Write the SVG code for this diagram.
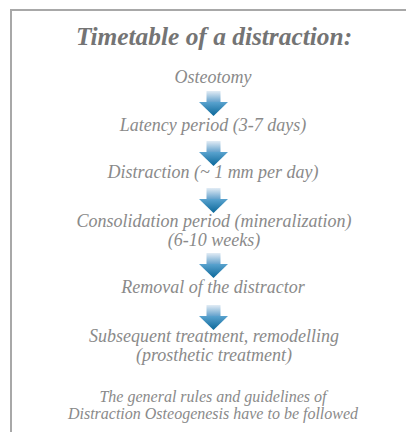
<svg xmlns="http://www.w3.org/2000/svg" width="406" height="432" viewBox="0 0 406 432">
<defs>
<linearGradient id="gs" x1="0" y1="0" x2="0" y2="1">
<stop offset="0" stop-color="#e2ecf5"/>
<stop offset="1" stop-color="#5a9cc9"/>
</linearGradient>
<linearGradient id="gh" x1="0" y1="0" x2="0" y2="1">
<stop offset="0" stop-color="#5aa3cf"/>
<stop offset="1" stop-color="#0a6799"/>
</linearGradient>
<g id="arrow">
<rect x="-7" y="0" width="14" height="12" fill="url(#gs)"/>
<polygon points="-14.5,11 14.5,11 0,25" fill="url(#gh)"/>
</g>
</defs>
<style>
.t{fill:#8a8a8a;text-anchor:middle;font-size:18px}
.s{font-size:16px}
.h{font-weight:bold;fill:#747474;text-anchor:middle;font-size:25.4px}
</style>
<rect x="0" y="0" width="406" height="432" fill="#ffffff"/>
<path d="M11,432 V10 H406" fill="none" stroke="#a8a8a8" stroke-width="2"/>
<g font-family="Liberation Serif, serif" font-style="italic">
<g id="title"><text class="h" x="214" y="45">Timetable of a distraction:</text></g>
<g id="n1"><text class="t" x="213" y="83">Osteotomy</text></g>
<g id="n2"><text class="t" x="213" y="131">Latency period (3-7 days)</text></g>
<g id="n3"><text class="t" x="213" y="178">Distraction (~ 1 mm per day)</text></g>
<g id="n4"><text class="t" x="214" y="227">Consolidation period (mineralization)</text><text class="t" x="214" y="246">(6-10 weeks)</text></g>
<g id="n5"><text class="t" x="213" y="293">Removal of the distractor</text></g>
<g id="n6"><text class="t" x="214" y="342">Subsequent treatment, remodelling</text><text class="t" x="214" y="361">(prosthetic treatment)</text></g>
<g id="note"><text class="t s" x="213" y="402">The general rules and guidelines of</text><text class="t s" x="213" y="419">Distraction Osteogenesis have to be followed</text></g>
</g>
<g id="connectors">
<use href="#arrow" x="213.5" y="91"/>
<use href="#arrow" x="213.5" y="141"/>
<use href="#arrow" x="213.5" y="188"/>
<use href="#arrow" x="213.5" y="253"/>
<use href="#arrow" x="213.5" y="305"/>
</g>
</svg>
